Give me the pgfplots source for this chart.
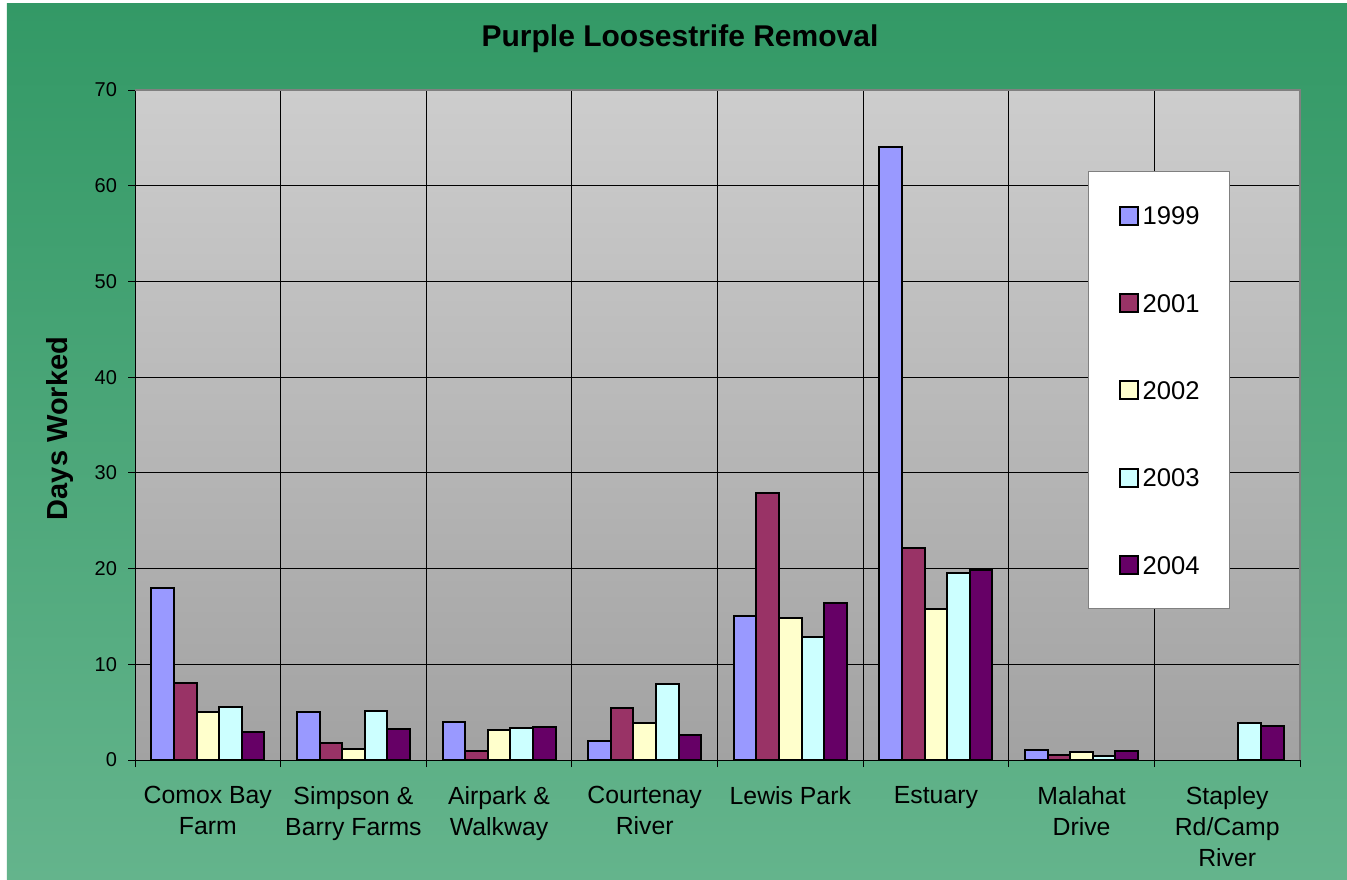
\documentclass[border=0pt]{standalone}
\usepackage{fontspec}
\setmainfont{Liberation Sans}
\usepackage{pgfplots}
\pgfplotsset{compat=1.18}
\definecolor{cA}{HTML}{9999FF}
\definecolor{cB}{HTML}{993366}
\definecolor{cC}{HTML}{FFFFCC}
\definecolor{cD}{HTML}{CCFFFF}
\definecolor{cE}{HTML}{660066}
\definecolor{greentop}{HTML}{339966}
\definecolor{greenbot}{HTML}{64B48C}
\definecolor{graytop}{HTML}{CDCDCD}
\definecolor{graybot}{HTML}{A2A2A2}
\definecolor{frame}{HTML}{808080}
\begin{document}
\begin{tikzpicture}
% 1px = 0.5pt, axis box lower left at (135,760) px
\useasboundingbox (-67.5pt,-59.5pt) rectangle (606pt,380pt);
\fill[white] (-67.5pt,-59.5pt) rectangle (606pt,380pt);
\shade[top color=greentop, bottom color=greenbot] (-64pt,-59.5pt) rectangle (606pt,378pt);
\begin{axis}[
    at={(0,0)}, anchor=south west,
    scale only axis, width=582.5pt, height=335pt,
    ybar=0pt, bar width=11.3pt,
    every axis plot post/.append style={legend image code/.code={\draw[##1] (0pt,-4.5pt) rectangle (9pt,4.5pt);}},
    xmin=-0.5, xmax=7.5, ymin=0, ymax=70,
    xtick={0,...,7},
    xticklabels={{Comox Bay\\Farm},{Simpson \&\\Barry Farms},{Airpark \&\\Walkway},{Courtenay\\River},{Lewis Park},{Estuary},{Malahat\\Drive},{Stapley\\Rd/Camp\\River}},
    minor xtick={-0.5,0.5,...,7.5},
    ytick={0,10,...,70},
    xtick pos=bottom, ytick pos=left,
    tick align=outside,
    major tick length=3.5pt, minor tick length=3.5pt,
    every major x tick/.append style={draw=none},
    tick style={black, line width=0.5pt},
    minor x grid style={black, line width=0.5pt},
    y grid style={black, line width=0.5pt},
    xminorgrids, ymajorgrids,
    axis x line*=bottom, axis y line*=left,
    axis line style={black, line width=0.5pt},
    axis background/.style={shade, top color=graytop, bottom color=graybot},
    /pgf/number format/assume math mode=true,
    yticklabel style={font=\fontsize{10}{12}\selectfont, xshift=-2pt},
    xticklabel style={font=\fontsize{12.4}{15.7}\selectfont, align=center, anchor=north, yshift=-6pt},
    title={Purple Loosestrife Removal},
    title style={font=\fontsize{15}{18}\selectfont\bfseries, at={(rel axis cs:0.4678,1.0473)}, anchor=base},
    ylabel={Days Worked},
    ylabel style={font=\fontsize{14.5}{17}\selectfont\bfseries, at={(rel axis cs:-0.0578,0.4948)}, anchor=base},
    every axis plot/.append style={draw=black, line width=1pt},
    legend cell align=left,
    legend style={at={(rel axis cs:0.818,0.879)}, anchor=north west,
        draw=frame, line width=0.6pt, fill=white,
        inner xsep=15pt, inner ysep=17pt, row sep=33.65pt, column sep=2pt,
        font=\fontsize{12.8}{14}\selectfont,
        nodes={inner sep=0pt, text height=9.2pt, text depth=0pt}},
    after end axis/.code={\draw[frame, line width=1pt] (rel axis cs:0,1) -- (rel axis cs:1,1) -- (rel axis cs:1,0);},
]
\addplot[fill=cA] coordinates {(0,18) (1,5) (2,4) (3,2) (4,15) (5,64) (6,1)};
\addplot[fill=cB] coordinates {(0,8) (1,1.8) (2,0.9) (3,5.4) (4,27.9) (5,22.2) (6,0.5)};
\addplot[fill=cC] coordinates {(0,5) (1,1.2) (2,3.1) (3,3.9) (4,14.8) (5,15.8) (6,0.8)};
\addplot[fill=cD] coordinates {(0,5.5) (1,5.1) (2,3.3) (3,7.9) (4,12.8) (5,19.5) (6,0.4) (7,3.9)};
\addplot[fill=cE] coordinates {(0,2.9) (1,3.2) (2,3.5) (3,2.6) (4,16.4) (5,19.9) (6,0.9) (7,3.6)};
\legend{1999,2001,2002,2003,2004}
\end{axis}
\end{tikzpicture}
\end{document}
